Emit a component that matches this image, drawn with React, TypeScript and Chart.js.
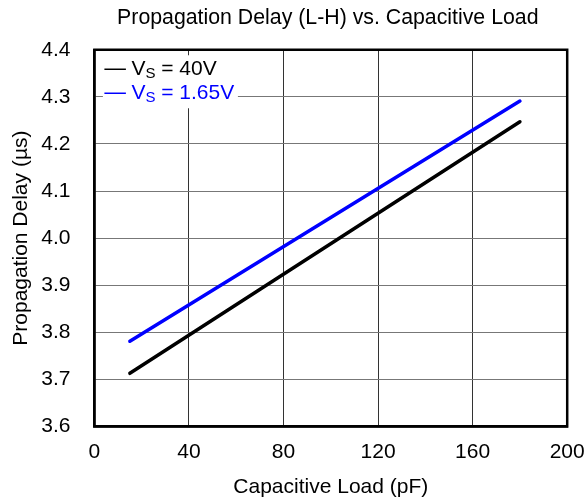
import React, { useEffect, useRef } from "react";
import { Chart, registerables } from "chart.js";

Chart.register(...registerables);

const capacitance = [15, 180];
const delayVs40 = [3.713, 4.247];
const delayVs165 = [3.781, 4.291];
const xTicks = [0, 40, 80, 120, 160, 200];
const yTicks = [3.6, 3.7, 3.8, 3.9, 4.0, 4.1, 4.2, 4.3, 4.4];
const seriesLabels = ["40V", "1.65V"];
const seriesColors = ["#000000", "#0000ff"];

const FONT = "'Liberation Sans', Arial, sans-serif";
const FS = 21;

const framePlugin = {
  id: "frameAndLegend",
  afterLayout(chart: any) {
    const tb = chart.titleBlock;
    if (tb) {
      tb.left -= 3;
      tb.right -= 3;
    }
  },
  afterDatasetsDraw(chart: any) {
    const { ctx, chartArea } = chart;
    ctx.save();
    const x0 = chartArea.left + 10;
    const rows = [chartArea.top + 19.5, chartArea.top + 43.5];
    ctx.fillStyle = "#ffffff";
    ctx.fillRect(chartArea.left + 8.5, chartArea.top + 5.5, 135, 53);
    seriesLabels.forEach((lab, i) => {
      const y = rows[i];
      ctx.strokeStyle = seriesColors[i];
      ctx.lineWidth = 1.5;
      ctx.beginPath();
      ctx.moveTo(x0, y);
      ctx.lineTo(x0 + 21.5, y);
      ctx.stroke();
      ctx.fillStyle = seriesColors[i];
      ctx.textBaseline = "middle";
      ctx.textAlign = "left";
      let tx = x0 + 27;
      ctx.font = `${FS}px ${FONT}`;
      ctx.fillText("V", tx, y);
      tx += ctx.measureText("V").width;
      ctx.font = `15px ${FONT}`;
      ctx.fillText("S", tx, y + 5);
      tx += ctx.measureText("S").width;
      ctx.font = `${FS}px ${FONT}`;
      ctx.fillText(" = " + lab, tx, y);
    });
    ctx.restore();
  },
  afterDraw(chart: any) {
    const { ctx, chartArea } = chart;
    ctx.save();
    ctx.strokeStyle = "#000";
    ctx.lineWidth = 2.5;
    ctx.strokeRect(
      chartArea.left,
      chartArea.top,
      chartArea.right - chartArea.left,
      chartArea.bottom - chartArea.top
    );
    ctx.restore();
  },
};

export default function App() {
  const ref = useRef<HTMLCanvasElement>(null);
  useEffect(() => {
    if (!ref.current) return;
    const mk = (vals: number[]) => capacitance.map((c, i) => ({ x: c, y: vals[i] }));
    const chart = new Chart(ref.current, {
      type: "line",
      data: {
        datasets: [
          {
            label: "VS = 40V",
            data: mk(delayVs40),
            borderColor: seriesColors[0],
            borderWidth: 3.5,
            borderCapStyle: "round",
            pointRadius: 0,
            fill: false,
          },
          {
            label: "VS = 1.65V",
            data: mk(delayVs165),
            borderColor: seriesColors[1],
            borderWidth: 3.5,
            borderCapStyle: "round",
            pointRadius: 0,
            fill: false,
          },
        ],
      },
      options: {
        animation: false,
        responsive: false,
        devicePixelRatio: 1,
        layout: { padding: { left: 0, right: 19.8, top: 0, bottom: 0 } },
        plugins: {
          legend: { display: false },
          tooltip: { enabled: false },
          title: {
            display: true,
            fullSize: false,
            text: "Propagation Delay (L-H) vs. Capacitive Load",
            color: "#000",
            font: { family: FONT, size: 21.3, weight: "normal", lineHeight: 1.2 },
            padding: { top: 5, bottom: 19.2 },
          },
        },
        scales: {
          x: {
            type: "linear",
            min: 0,
            max: 200,
            afterBuildTicks: (s: any) => {
              s.ticks = xTicks.map((v) => ({ value: v }));
            },
            afterFit: (s: any) => {
              s.height = 71.5;
              s.paddingLeft = 0;
              s.paddingRight = 0;
            },
            ticks: {
              color: "#000",
              font: { family: FONT, size: FS, lineHeight: 1.2 },
              padding: 13.5,
              maxRotation: 0,
            },
            grid: { color: "#333", lineWidth: 1, drawTicks: false },
            border: { color: "#000", width: 2.5 },
            title: {
              display: true,
              text: "Capacitive Load (pF)",
              color: "#000",
              font: { family: FONT, size: FS, lineHeight: 1 },
              padding: { top: 0, bottom: 0.5 },
            },
          },
          y: {
            type: "linear",
            min: 3.6,
            max: 4.4,
            afterBuildTicks: (s: any) => {
              s.ticks = yTicks.map((v) => ({ value: v }));
            },
            afterFit: (s: any) => {
              s.width = 94.4;
              s.paddingTop = 0;
              s.paddingBottom = 0;
            },
            ticks: {
              color: "#000",
              font: { family: FONT, size: FS, lineHeight: 1.2 },
              padding: 24,
              callback: (v: any) => Number(v).toFixed(1),
            },
            grid: { color: "#777", lineWidth: 1, drawTicks: false },
            border: { color: "#000", width: 2.5 },
            title: {
              display: true,
              text: "Propagation Delay (µs)",
              color: "#000",
              font: { family: FONT, size: FS, lineHeight: 1 },
              padding: { top: 11, bottom: 0 },
            },
          },
        },
      },
      plugins: [framePlugin],
    } as any);
    return () => chart.destroy();
  }, []);
  return (
    <div style={{ position: "fixed", left: 0, top: 0, width: 587, height: 498, background: "#fff" }}>
      <canvas ref={ref} width={587} height={498} style={{ width: 587, height: 498, display: "block" }} />
    </div>
  );
}
